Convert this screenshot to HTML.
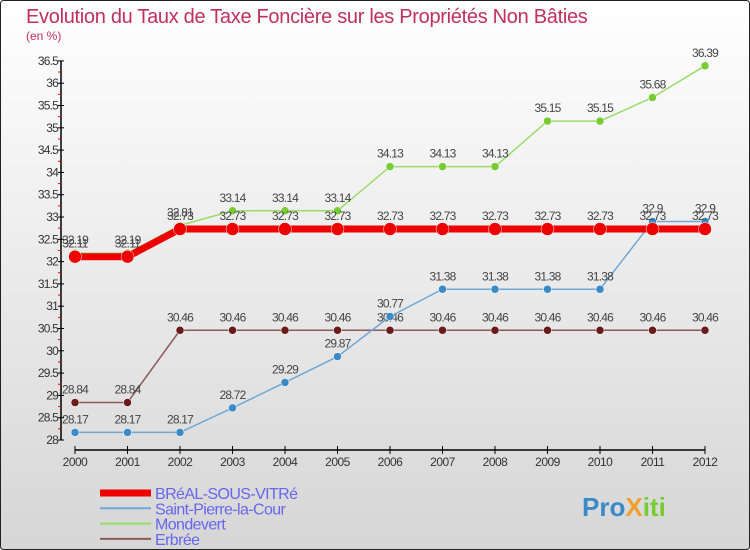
<!DOCTYPE html>
<html><head><meta charset="utf-8"><style>
body{margin:0}
#wrap{width:750px;height:550px;position:relative;overflow:hidden;font-family:"Liberation Sans",sans-serif}
</style></head><body>
<div id="wrap">
<svg id="svg" width="750" height="550" xmlns="http://www.w3.org/2000/svg">
<defs><linearGradient id="bg" x1="0" y1="0" x2="0" y2="1"><stop offset="0" stop-color="#ffffff"/><stop offset="1" stop-color="#d6d6d6"/></linearGradient></defs>
<rect x="0.5" y="0.5" width="749" height="549" rx="3" fill="url(#bg)" stroke="#222"/>
<text x="26" y="23" font-size="20" fill="#c0305a" letter-spacing="-0.3">Evolution du Taux de Taxe Foncière sur les Propriétés Non Bâties</text>
<text x="26" y="40" font-size="12" fill="#c0305a">(en %)</text>
<g id="axes"></g><g id="series"></g><g id="legend"></g>
</svg></div>
<script>
const years=[2000,2001,2002,2003,2004,2005,2006,2007,2008,2009,2010,2011,2012];
const yTicks=[28,28.5,29,29.5,30,30.5,31,31.5,32,32.5,33,33.5,34,34.5,35,35.5,36,36.5];
const breal=[32.11,32.11,32.73,32.73,32.73,32.73,32.73,32.73,32.73,32.73,32.73,32.73,32.73];
const stpierre=[28.17,28.17,28.17,28.72,29.29,29.87,30.77,31.38,31.38,31.38,31.38,32.9,32.9];
const mondevert=[32.19,32.19,32.81,33.14,33.14,33.14,34.13,34.13,34.13,35.15,35.15,35.68,36.39];
const erbree=[28.84,28.84,30.46,30.46,30.46,30.46,30.46,30.46,30.46,30.46,30.46,30.46,30.46];
const NS='http://www.w3.org/2000/svg';
const X=i=>75+i*52.5, Y=v=>440-(v-28)*44.6;
function mk(t,a,p){const e=document.createElementNS(NS,t);for(const k in a)e.setAttribute(k,a[k]);p.appendChild(e);return e;}
const ax=document.getElementById('axes');
let e=mk('line',{x1:61,y1:61,x2:61,y2:440,stroke:'#000','stroke-width':1.5},ax);


e=mk('line',{x1:75,y1:450,x2:705,y2:450,stroke:'#000','stroke-width':1.5},ax);


yTicks.forEach(v=>{
 mk('line',{x1:58,y1:Y(v),x2:64,y2:Y(v),stroke:'#000'},ax);
 if(v<36.5) mk('line',{x1:58,y1:Y(v+0.25),x2:61,y2:Y(v+0.25),stroke:'#e00'},ax);
 const t=mk('text',{x:58,y:Y(v)+4,'font-size':12,fill:'#333','text-anchor':'end','letter-spacing':'-0.8'},ax);t.textContent=v;
 
 
});
years.forEach((y,i)=>{
 mk('line',{x1:X(i),y1:446,x2:X(i),y2:454,stroke:'#000'},ax);
 const t=mk('text',{x:X(i),y:466,'font-size':12,fill:'#333','text-anchor':'middle','letter-spacing':'-0.5'},ax);t.textContent=y;
 
 
});
const sg=document.getElementById('series');
function series(name,vals,col,w,r,fill){
 const g=mk('g',{},sg);
 
 
 mk('polyline',{points:vals.map((v,i)=>X(i)+','+Y(v)).join(' '),fill:'none',stroke:col,'stroke-width':w},g);
 vals.forEach((v,i)=>{
  const c=mk('circle',{cx:X(i),cy:Y(v),r:r,fill:fill,stroke:'#fff','stroke-width':0.5},g);
  
  
  const t=mk('text',{x:X(i),y:Y(v)-9,'font-size':12,fill:'#444','text-anchor':'middle','letter-spacing':'-0.8'},g);t.textContent=v;
  
  
 });
}
series('erbree',erbree,'#8b5a5a',1.5,4,'#6b1a1a');
series('saint-pierre',stpierre,'#6fa8d6',1.5,4,'#3a8ac8');
series('mondevert',mondevert,'#99dd66',1.5,4,'#77cc33');
series('breal',breal,'#ee0000',7,6.5,'#ee0000');
const lg=document.getElementById('legend');
[['BRéAL-SOUS-VITRé','#ee0000',7,'breal'],['Saint-Pierre-la-Cour','#6fa8d6',2,'saint-pierre'],['Mondevert','#99dd66',2,'mondevert'],['Erbrée','#8b5a5a',2,'erbree']].forEach((d,i)=>{
 const g=mk('g',{},lg);
 
 
 const y=493+i*15.3;
 mk('line',{x1:100,y1:y,x2:151,y2:y,stroke:d[1],'stroke-width':d[2]},g);
 const t=mk('text',{x:155,y:y+6,'font-size':16,fill:'#6666ee','letter-spacing':'-0.6'},g);t.textContent=d[0];
});
const lo=mk('text',{x:582,y:516,'font-size':26,'font-weight':'bold',fill:'#f0a030'},lg);


[['Pro','#3a8ac8'],['X','#f0a030'],['iti','#77cc33']].forEach(p=>{const s=mk('tspan',{fill:p[1]},lo);s.textContent=p[0];});
</script>
</body></html>
